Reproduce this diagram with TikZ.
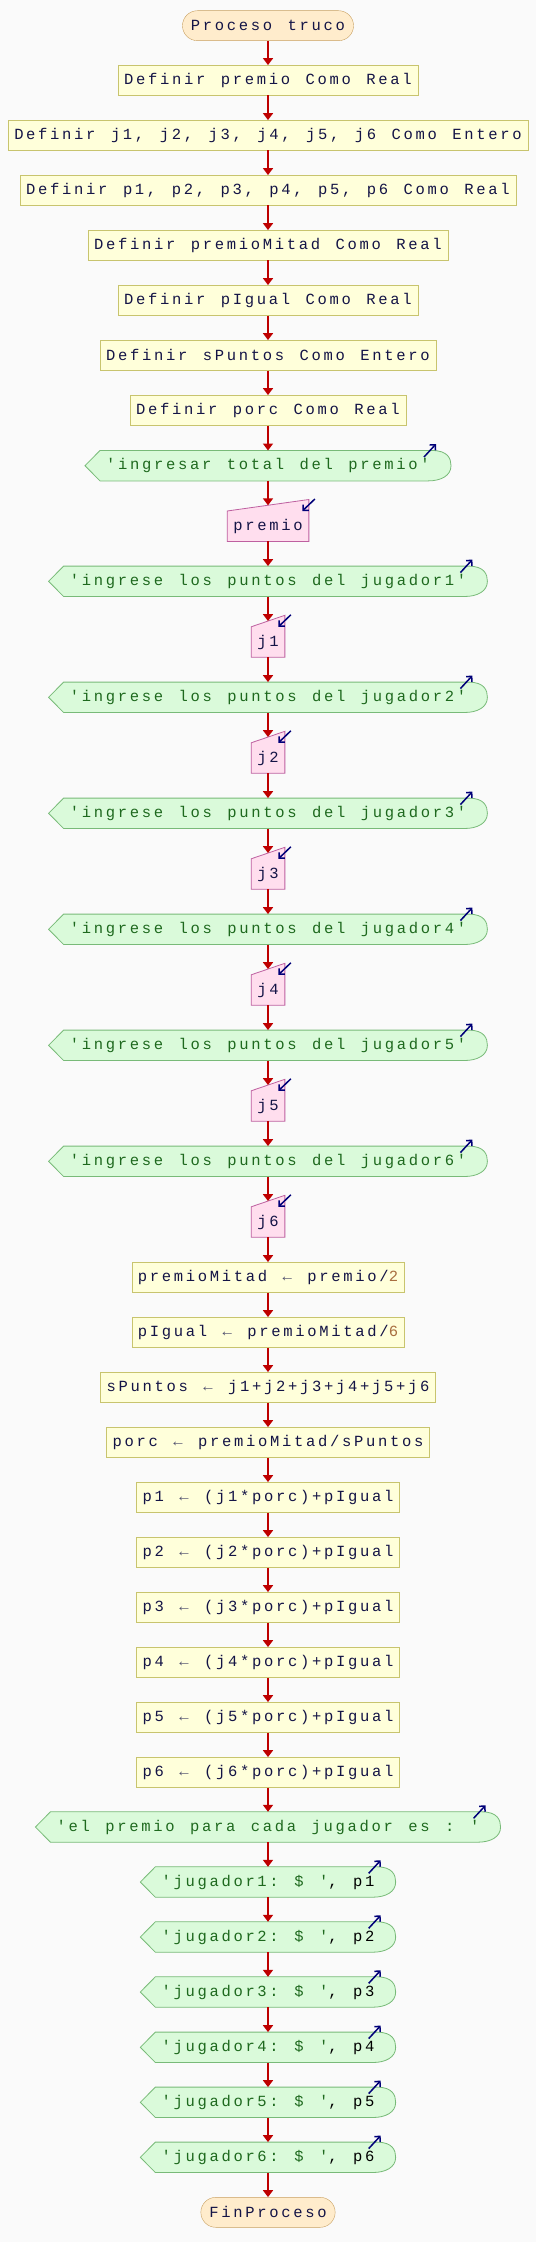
\documentclass[tikz,border=0pt]{standalone}
\usepackage{fontspec}
\setmonofont{Liberation Mono}[LetterSpace=17.4,WordSpace=1.29]
\usetikzlibrary{arrows.meta}
\definecolor{bgc}{RGB}{250,250,250}
\definecolor{termfill}{RGB}{255,236,204}
\definecolor{termline}{RGB}{200,160,96}
\definecolor{procfill}{RGB}{255,255,218}
\definecolor{procline}{RGB}{200,196,110}
\definecolor{outfill}{RGB}{218,250,218}
\definecolor{outline}{RGB}{120,186,120}
\definecolor{infill}{RGB}{255,222,238}
\definecolor{inline}{RGB}{190,96,160}
\definecolor{textc}{RGB}{20,20,70}
\definecolor{strc}{RGB}{30,105,30}
\definecolor{numc}{RGB}{168,110,64}
\definecolor{asigc}{RGB}{80,80,110}
\definecolor{flowred}{RGB}{190,0,0}
\definecolor{markc}{RGB}{0,0,120}
\pgfdeclarelayer{canvas}
\pgfdeclarelayer{background}
\pgfsetlayers{canvas,background,main}
\tikzset{
  base/.style={font=\ttfamily\fontsize{15.5}{18}\selectfont, inner xsep=6pt, inner ysep=0pt, minimum height=30pt},
  termbox/.style={base, draw=termline, fill=termfill, text=textc, rounded corners=15pt, inner xsep=8.5pt},
  procbox/.style={base, draw=procline, fill=procfill, text=textc},
  outbox/.style={base, text=strc},
  inbox/.style={base, text=textc},
  flow/.style={-{Triangle[length=7pt,width=10pt]}, draw=flowred, line width=2.4pt},
  outshape/.style={draw=outline, fill=outfill, line width=0.8pt},
  inshape/.style={draw=inline, fill=infill, line width=0.8pt},
  iomark/.style={-{Straight Barb[length=4pt,width=8pt]}, draw=markc, line width=1.5pt}
}
\newcommand\outform[1]{%
  \begin{pgfonlayer}{background}
    \draw[outshape] (#1.north west) -- ([xshift=-4pt]#1.north east)
      .. controls ([xshift=12pt]#1.north east) and ([xshift=15pt,yshift=7pt]#1.east) .. ([xshift=15pt]#1.east)
      .. controls ([xshift=15pt,yshift=-10pt]#1.east) and ([xshift=5pt]#1.south east) .. ([xshift=-8pt]#1.south east)
      -- (#1.south west) -- ([xshift=-15pt]#1.west) -- cycle;
  \end{pgfonlayer}
  \draw[iomark] ([xshift=-12pt,yshift=-6.5pt]#1.north east) -- ([yshift=6.5pt]#1.north east);
}
\newcommand\inform[1]{%
  \begin{pgfonlayer}{background}
    \draw[inshape] (#1.south west) -- (#1.south east) -- ([yshift=11.5pt]#1.north east) -- (#1.north west) -- cycle;
  \end{pgfonlayer}
  \draw[iomark] ([xshift=6pt,yshift=12pt]#1.north east) -- ([xshift=-6.5pt]#1.north east);
}
\newcommand\asig{\textcolor{asigc}{←}}

\begin{document}
\begin{tikzpicture}[x=1pt, y=1pt]
    \begin{pgfonlayer}{canvas}
      \fill[bgc] (0,0) rectangle (536,-2242);
    \end{pgfonlayer}
    \node[termbox] (start) at (268,-25.7) {Proceso truco};
    \node[procbox] (d1) at (268,-80.3) {Definir premio Como Real};
    \node[procbox] (d2) at (268,-135.3) {Definir j1, j2, j3, j4, j5, j6 Como Entero};
    \node[procbox] (d3) at (268,-190.3) {Definir p1, p2, p3, p4, p5, p6 Como Real};
    \node[procbox] (d4) at (268,-245.3) {Definir premioMitad Como Real};
    \node[procbox] (d5) at (268,-300.3) {Definir pIgual Como Real};
    \node[procbox] (d6) at (268,-355.3) {Definir sPuntos Como Entero};
    \node[procbox] (d7) at (268,-410.3) {Definir porc Como Real};
    \node[outbox] (o0) at (268,-465.7) {'ingresar total del premio'};
    \node[inbox] (i0) at (268,-526.2) {premio};
    \node[outbox] (o1) at (268,-581.3) {'ingrese los puntos del jugador1'};
    \node[inbox] (i1) at (268,-642) {j1};
    \node[outbox] (o2) at (268,-697.3) {'ingrese los puntos del jugador2'};
    \node[inbox] (i2) at (268,-758) {j2};
    \node[outbox] (o3) at (268,-813.3) {'ingrese los puntos del jugador3'};
    \node[inbox] (i3) at (268,-874) {j3};
    \node[outbox] (o4) at (268,-929.3) {'ingrese los puntos del jugador4'};
    \node[inbox] (i4) at (268,-990) {j4};
    \node[outbox] (o5) at (268,-1045.3) {'ingrese los puntos del jugador5'};
    \node[inbox] (i5) at (268,-1106) {j5};
    \node[outbox] (o6) at (268,-1161.3) {'ingrese los puntos del jugador6'};
    \node[inbox] (i6) at (268,-1222) {j6};
    \node[procbox] (a1) at (268,-1277.3) {premioMitad \asig{} premio/\textcolor{numc}{2}};
    \node[procbox] (a2) at (268,-1332.3) {pIgual \asig{} premioMitad/\textcolor{numc}{6}};
    \node[procbox] (a3) at (268,-1387.3) {sPuntos \asig{} j1+j2+j3+j4+j5+j6};
    \node[procbox] (a4) at (268,-1442.3) {porc \asig{} premioMitad/sPuntos};
    \node[procbox] (p1) at (268,-1497.3) {p1 \asig{} (j1*porc)+pIgual};
    \node[procbox] (p2) at (268,-1552.3) {p2 \asig{} (j2*porc)+pIgual};
    \node[procbox] (p3) at (268,-1607.3) {p3 \asig{} (j3*porc)+pIgual};
    \node[procbox] (p4) at (268,-1662.3) {p4 \asig{} (j4*porc)+pIgual};
    \node[procbox] (p5) at (268,-1717.3) {p5 \asig{} (j5*porc)+pIgual};
    \node[procbox] (p6) at (268,-1772.3) {p6 \asig{} (j6*porc)+pIgual};
    \node[outbox] (oe) at (268,-1827) {'el premio para cada jugador es : '};
    \node[outbox] (w1) at (268,-1882) {'jugador1: \$ '\textcolor{black}{, p1}};
    \node[outbox] (w2) at (268,-1937) {'jugador2: \$ '\textcolor{black}{, p2}};
    \node[outbox] (w3) at (268,-1992) {'jugador3: \$ '\textcolor{black}{, p3}};
    \node[outbox] (w4) at (268,-2047.3) {'jugador4: \$ '\textcolor{black}{, p4}};
    \node[outbox] (w5) at (268,-2102.3) {'jugador5: \$ '\textcolor{black}{, p5}};
    \node[outbox] (w6) at (268,-2157.3) {'jugador6: \$ '\textcolor{black}{, p6}};
    \node[termbox] (end) at (268,-2212.3) {FinProceso};
    \outform{o0} \outform{o1} \outform{o2} \outform{o3} \outform{o4} \outform{o5} \outform{o6}
    \outform{oe} \outform{w1} \outform{w2} \outform{w3} \outform{w4} \outform{w5} \outform{w6}
    \inform{i0} \inform{i1} \inform{i2} \inform{i3} \inform{i4} \inform{i5} \inform{i6}
    \draw[flow] (start.south) -- (d1.north);
    \draw[flow] (d1.south) -- (d2.north);
    \draw[flow] (d2.south) -- (d3.north);
    \draw[flow] (d3.south) -- (d4.north);
    \draw[flow] (d4.south) -- (d5.north);
    \draw[flow] (d5.south) -- (d6.north);
    \draw[flow] (d6.south) -- (d7.north);
    \draw[flow] (d7.south) -- (o0.north);
    \draw[flow] (o0.south) -- ([yshift=5.7pt]i0.north);
    \draw[flow] (i0.south) -- (o1.north);
    \draw[flow] (o1.south) -- ([yshift=5.7pt]i1.north);
    \draw[flow] (i1.south) -- (o2.north);
    \draw[flow] (o2.south) -- ([yshift=5.7pt]i2.north);
    \draw[flow] (i2.south) -- (o3.north);
    \draw[flow] (o3.south) -- ([yshift=5.7pt]i3.north);
    \draw[flow] (i3.south) -- (o4.north);
    \draw[flow] (o4.south) -- ([yshift=5.7pt]i4.north);
    \draw[flow] (i4.south) -- (o5.north);
    \draw[flow] (o5.south) -- ([yshift=5.7pt]i5.north);
    \draw[flow] (i5.south) -- (o6.north);
    \draw[flow] (o6.south) -- ([yshift=5.7pt]i6.north);
    \draw[flow] (i6.south) -- (a1.north);
    \draw[flow] (a1.south) -- (a2.north);
    \draw[flow] (a2.south) -- (a3.north);
    \draw[flow] (a3.south) -- (a4.north);
    \draw[flow] (a4.south) -- (p1.north);
    \draw[flow] (p1.south) -- (p2.north);
    \draw[flow] (p2.south) -- (p3.north);
    \draw[flow] (p3.south) -- (p4.north);
    \draw[flow] (p4.south) -- (p5.north);
    \draw[flow] (p5.south) -- (p6.north);
    \draw[flow] (p6.south) -- (oe.north);
    \draw[flow] (oe.south) -- (w1.north);
    \draw[flow] (w1.south) -- (w2.north);
    \draw[flow] (w2.south) -- (w3.north);
    \draw[flow] (w3.south) -- (w4.north);
    \draw[flow] (w4.south) -- (w5.north);
    \draw[flow] (w5.south) -- (w6.north);
    \draw[flow] (w6.south) -- (end.north);
\end{tikzpicture}
\end{document}
